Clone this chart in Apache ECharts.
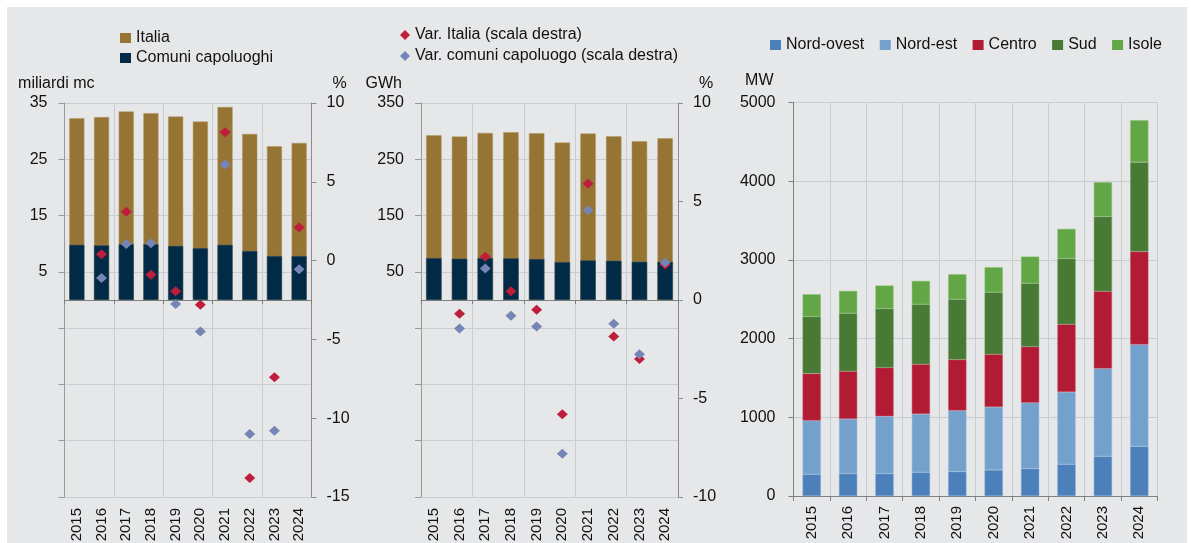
<!DOCTYPE html>
<html>
<head>
<meta charset="utf-8">
<script src="https://cdn.jsdelivr.net/npm/echarts@6/dist/echarts.min.js"></script>
<style>
html,body{margin:0;padding:0;background:#ffffff;width:1191px;height:543px;overflow:hidden;}
#bg{position:absolute;left:7px;top:7px;width:1180px;height:536px;background:#e6e7e9;}
#chart{position:absolute;left:0;top:0;width:1191px;height:543px;}
</style>
</head>
<body>
<div id="bg"></div>
<div id="chart"></div>
<script>
// ---- Data ----
const years = ['2015','2016','2017','2018','2019','2020','2021','2022','2023','2024'];

// Panel 1: gas consumption (miliardi mc) and % change
const gasItalia   = [32.3, 32.5, 33.5, 33.2, 32.6, 31.7, 34.3, 29.5, 27.3, 27.9];
const gasComuni   = [9.8, 9.7, 9.9, 9.9, 9.6, 9.2, 9.8, 8.7, 7.8, 7.8];
const gasVarItalia = ['-', 0.4, 3.1, -0.9, -1.95, -2.8, 8.15, -13.8, -7.4, 2.1];
const gasVarComuni = ['-', -1.1, 1.05, 1.1, -2.75, -4.5, 6.1, -11.0, -10.8, -0.55];

// Panel 2: electricity consumption (GWh) and % change
const elItalia   = [292.7, 290.4, 296.8, 298.0, 296.3, 279.7, 295.7, 290.9, 282.0, 287.4];
const elComuni   = [74.4, 73.3, 74.4, 73.9, 72.7, 67.3, 70.3, 69.7, 67.9, 67.9];
const elVarItalia = ['-', -0.7, 2.2, 0.45, -0.5, -5.8, 5.9, -1.85, -3.0, 1.8];
const elVarComuni = ['-', -1.45, 1.6, -0.8, -1.35, -7.8, 4.55, -1.2, -2.75, 1.9];

// Panel 3: installed power (MW) by area
const nordOvest = [275, 284, 284, 301, 309, 331, 347, 403, 504, 631];
const nordEst   = [683, 695, 729, 741, 776, 800, 839, 919, 1115, 1293];
const centro    = [597, 606, 618, 632, 648, 670, 712, 860, 983, 1182];
const sud       = [725, 737, 750, 762, 767, 788, 805, 835, 949, 1136];
const isole     = [283, 284, 293, 297, 318, 318, 339, 377, 436, 533];

// ---- Styles ----
const FONT = "'Liberation Sans', Arial, sans-serif";
const C_ITALIA = '#967434', C_COMUNI = '#002a45', C_RED = '#be1e3c', C_BLUE = '#7585b5';
const GRIDLINE = '#cbcccf';
const txt = {color:'#111', fontFamily: FONT, fontSize: 16};
const yearLabel = {color:'#111', fontFamily:FONT, fontSize:15, rotate:90};
const legendItem = {borderWidth:0};

function leftAxis(grid, min, max, interval, name, namePad) {
  return {
    type:'value', gridIndex:grid, position:'left', min, max, interval,
    name, nameLocation:'end', nameGap: 11,
    nameTextStyle: Object.assign({}, txt, {align:'right', padding: namePad}),
    axisLine:{show:true, lineStyle:{color:'#9a9a9a', width:1}},
    axisTick:{show:true, length:6, lineStyle:{color:'#9a9a9a'}},
    axisLabel: Object.assign({}, txt, {margin:17, formatter: v => v > 0 ? String(v) : ''}),
    splitLine:{show:true, lineStyle:{color:GRIDLINE, width:1}}
  };
}
function rightAxis(grid, min, max, interval) {
  return {
    type:'value', gridIndex:grid, position:'right', min, max, interval,
    name:'%', nameLocation:'end', nameGap: 11,
    nameTextStyle: Object.assign({}, txt, {align:'left', padding:[0,0,0,21]}),
    axisLine:{show:true, lineStyle:{color:'#8c8c8c', width:1}},
    axisTick:{show:true, length:5, lineStyle:{color:'#8c8c8c'}},
    axisLabel: Object.assign({}, txt, {margin:15, formatter: v => String(v)}),
    splitLine:{show:false}
  };
}
function zeroXAxis(grid, yIdx) {
  return {
    type:'category', gridIndex:grid, data:years, position:'bottom',
    axisLine:{show:true, onZero:true, onZeroAxisIndex:yIdx, lineStyle:{color:'#7f7f7f', width:1}},
    axisTick:{show:true, length:4, inside:false, lineStyle:{color:'#7f7f7f'}},
    axisLabel:{show:false},
    splitLine:{show:true, lineStyle:{color:GRIDLINE, width:1}}
  };
}
function labelXAxis(grid) {
  return {
    type:'category', gridIndex:grid, data:years, position:'bottom',
    axisLine:{show:false, onZero:false}, axisTick:{show:false},
    axisLabel:Object.assign({}, yearLabel, {margin:11}),
    splitLine:{show:false}
  };
}

const option = {
  backgroundColor:'transparent',
  animation:false,
  textStyle:{fontFamily:FONT},
  legend:[
    {left:120, top:30, padding:0, orient:'vertical', itemWidth:11, itemHeight:10, itemGap:4,
     itemStyle:legendItem, textStyle:txt,
     data:[{name:'Italia', icon:'rect'},{name:'Comuni capoluoghi', icon:'rect'}]},
    {left:400, top:27, padding:0, orient:'vertical', itemWidth:10, itemHeight:10, itemGap:5,
     itemStyle:legendItem, textStyle:txt,
     data:[{name:'Var. Italia (scala destra)', icon:'diamond'},{name:'Var. comuni capoluogo (scala destra)', icon:'diamond'}]},
    {left:770, top:37, padding:0, orient:'horizontal', itemWidth:11, itemHeight:10, itemGap:15.5,
     itemStyle:legendItem, textStyle:txt,
     data:[{name:'Nord-ovest', icon:'rect'},{name:'Nord-est', icon:'rect'},{name:'Centro', icon:'rect'},{name:'Sud', icon:'rect'},{name:'Isole', icon:'rect'}]}
  ],
  grid:[
    {left:64.5, top:103, width:247, height:394, outerBoundsMode:'none', containLabel:false},
    {left:421, top:103, width:257, height:394, outerBoundsMode:'none', containLabel:false},
    {left:793.5, top:102.5, width:364, height:393.5, outerBoundsMode:'none', containLabel:false}
  ],
  xAxis:[
    zeroXAxis(0, 0), labelXAxis(0),
    zeroXAxis(1, 2), labelXAxis(1),
    {
      type:'category', gridIndex:2, data:years, position:'bottom',
      axisLine:{show:true, onZero:false, lineStyle:{color:'#7f7f7f', width:1}},
      axisTick:{show:true, length:5, lineStyle:{color:'#7f7f7f'}},
      axisLabel:Object.assign({}, yearLabel, {margin:10}),
      splitLine:{show:true, lineStyle:{color:GRIDLINE, width:1}}
    }
  ],
  yAxis:[
    leftAxis(0, -35, 35, 10, 'miliardi mc', [0,-30,0,0]),
    rightAxis(0, -15, 10, 5),
    leftAxis(1, -350, 350, 100, 'GWh', [0,19,0,0]),
    rightAxis(1, -10, 10, 5),
    {
      type:'value', gridIndex:2, position:'left', min:0, max:5000, interval:1000,
      name:'MW', nameLocation:'end', nameGap: 14,
      nameTextStyle: Object.assign({}, txt, {align:'right', padding:[0,20,0,0]}),
      axisLine:{show:true, lineStyle:{color:'#7f7f7f', width:1}},
      axisTick:{show:true, length:5, lineStyle:{color:'#7f7f7f'}},
      axisLabel: Object.assign({}, txt, {margin:18, formatter: v => String(v)}),
      splitLine:{show:true, lineStyle:{color:GRIDLINE, width:1}}
    }
  ],
  series:[
    // Panel 1
    {name:'Italia', type:'bar', xAxisIndex:0, yAxisIndex:0, data:gasItalia, barWidth:'61%', barGap:'-100%',
     itemStyle:{color:C_ITALIA, borderColor:'#b39660', borderWidth:0.5}},
    {name:'Comuni capoluoghi', type:'bar', xAxisIndex:0, yAxisIndex:0, data:gasComuni, barWidth:'61%', barGap:'-100%',
     itemStyle:{color:C_COMUNI, borderColor:'#35546a', borderWidth:0.5}},
    {name:'Var. Italia (scala destra)', type:'scatter', xAxisIndex:0, yAxisIndex:1, data:gasVarItalia,
     symbol:'diamond', symbolSize:[11,10], itemStyle:{color:C_RED, opacity:1}, z:5},
    {name:'Var. comuni capoluogo (scala destra)', type:'scatter', xAxisIndex:0, yAxisIndex:1, data:gasVarComuni,
     symbol:'diamond', symbolSize:[11,10], itemStyle:{color:C_BLUE, opacity:1}, z:5},
    // Panel 2
    {name:'Italia', type:'bar', xAxisIndex:2, yAxisIndex:2, data:elItalia, barWidth:'60%', barGap:'-100%',
     itemStyle:{color:C_ITALIA, borderColor:'#b39660', borderWidth:0.5}},
    {name:'Comuni capoluoghi', type:'bar', xAxisIndex:2, yAxisIndex:2, data:elComuni, barWidth:'60%', barGap:'-100%',
     itemStyle:{color:C_COMUNI, borderColor:'#35546a', borderWidth:0.5}},
    {name:'Var. Italia (scala destra)', type:'scatter', xAxisIndex:2, yAxisIndex:3, data:elVarItalia,
     symbol:'diamond', symbolSize:[11,10], itemStyle:{color:C_RED, opacity:1}, z:5},
    {name:'Var. comuni capoluogo (scala destra)', type:'scatter', xAxisIndex:2, yAxisIndex:3, data:elVarComuni,
     symbol:'diamond', symbolSize:[11,10], itemStyle:{color:C_BLUE, opacity:1}, z:5},
    // Panel 3
    {name:'Nord-ovest', type:'bar', stack:'mw', xAxisIndex:4, yAxisIndex:4, data:nordOvest, barWidth:'50%',
     itemStyle:{color:'#4b80ba', borderColor:'#7aa1cc', borderWidth:0.5}},
    {name:'Nord-est', type:'bar', stack:'mw', xAxisIndex:4, yAxisIndex:4, data:nordEst, barWidth:'50%',
     itemStyle:{color:'#73a1cc', borderColor:'#9dbddc', borderWidth:0.5}},
    {name:'Centro', type:'bar', stack:'mw', xAxisIndex:4, yAxisIndex:4, data:centro, barWidth:'50%',
     itemStyle:{color:'#b11c34', borderColor:'#c9566a', borderWidth:0.5}},
    {name:'Sud', type:'bar', stack:'mw', xAxisIndex:4, yAxisIndex:4, data:sud, barWidth:'50%',
     itemStyle:{color:'#497a35', borderColor:'#76a065', borderWidth:0.5}},
    {name:'Isole', type:'bar', stack:'mw', xAxisIndex:4, yAxisIndex:4, data:isole, barWidth:'50%',
     itemStyle:{color:'#62a646', borderColor:'#8fc079', borderWidth:0.5}}
  ]
};

const chart = echarts.init(document.getElementById('chart'), null, {renderer:'canvas', width:1191, height:543});
chart.setOption(option);
</script>
</body>
</html>
